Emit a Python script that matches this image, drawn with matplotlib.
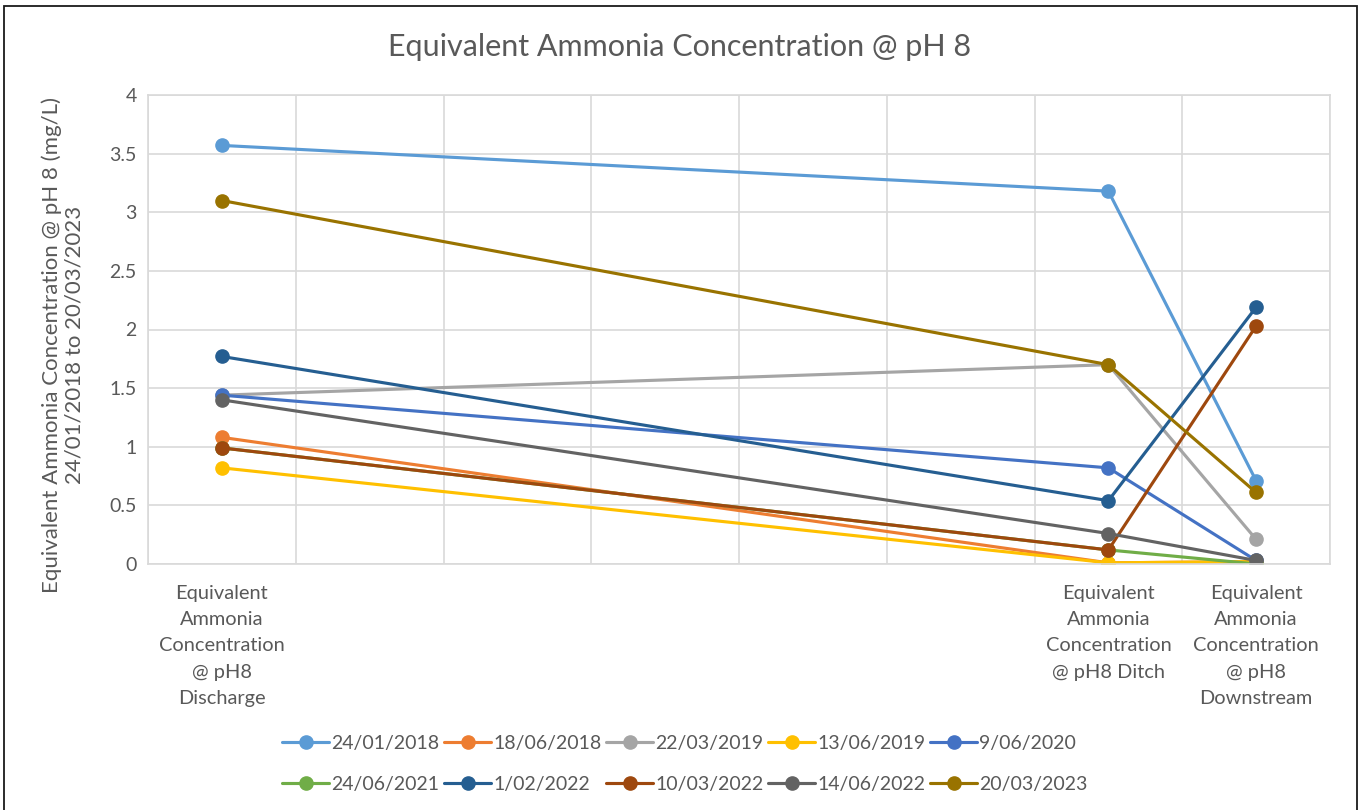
import matplotlib
matplotlib.use("Agg")
import matplotlib.pyplot as plt
from matplotlib.patches import Rectangle

# Sampling sites (positions on an x scale running 0..8)
sites = [
    "Equivalent\nAmmonia\nConcentration\n@ pH8\nDischarge",
    "Equivalent\nAmmonia\nConcentration\n@ pH8 Ditch",
    "Equivalent\nAmmonia\nConcentration\n@ pH8\nDownstream",
]
site_x = [0.5, 6.5, 7.5]

dates = ["24/01/2018", "18/06/2018", "22/03/2019", "13/06/2019", "9/06/2020",
         "24/06/2021", "1/02/2022", "10/03/2022", "14/06/2022", "20/03/2023"]

# Equivalent ammonia (mg/L) at Discharge, Ditch, Downstream
s_24_01_2018 = [3.57, 3.18, 0.71]
s_18_06_2018 = [1.08, 0.01, 0.02]
s_22_03_2019 = [1.44, 1.70, 0.21]
s_13_06_2019 = [0.82, 0.01, 0.02]
s_09_06_2020 = [1.44, 0.82, 0.03]
s_24_06_2021 = [0.99, 0.12, 0.00]
s_01_02_2022 = [1.77, 0.54, 2.19]
s_10_03_2022 = [0.99, 0.12, 2.03]
s_14_06_2022 = [1.40, 0.26, 0.03]
s_20_03_2023 = [3.10, 1.70, 0.61]

series = [s_24_01_2018, s_18_06_2018, s_22_03_2019, s_13_06_2019, s_09_06_2020,
          s_24_06_2021, s_01_02_2022, s_10_03_2022, s_14_06_2022, s_20_03_2023]

colors = ["#5B9BD5", "#ED7D31", "#A5A5A5", "#FFC000", "#4472C4",
          "#70AD47", "#255E91", "#9E480E", "#636363", "#997300"]

plt.rcParams["font.family"] = ["Lato", "DejaVu Sans"]
text_col = "#595959"
grid_col = "#D9D9D9"

fig = plt.figure(figsize=(13.65, 8.1), dpi=100)
ax = fig.add_axes([148 / 1365, 1 - 564 / 810, (1330 - 148) / 1365, (564 - 95) / 810])

handles = []
for vals, col, lab in zip(series, colors, dates):
    h, = ax.plot(site_x, vals, color=col, lw=2.25, marker="o", markersize=9.5,
                 label=lab, solid_capstyle="round")
    handles.append(h)

ax.set_xlim(0, 8)
ax.set_ylim(0, 4)
ax.set_xticks(range(0, 9), minor=True)
ax.set_xticks(site_x)
ax.set_xticklabels(sites, fontsize=14.4, color=text_col, linespacing=1.66)
ax.set_yticks([0, 0.5, 1, 1.5, 2, 2.5, 3, 3.5, 4])
ax.set_yticklabels(["0", "0.5", "1", "1.5", "2", "2.5", "3", "3.5", "4"],
                   fontsize=14, color=text_col)
ax.tick_params(axis="both", which="both", length=0)
ax.tick_params(axis="x", pad=15)
ax.tick_params(axis="y", pad=8)
ax.grid(True, which="minor", axis="x", color=grid_col, lw=1.2)
ax.grid(True, which="major", axis="y", color=grid_col, lw=1.2)
ax.set_axisbelow(True)
for sp in ax.spines.values():
    sp.set_color(grid_col)
    sp.set_linewidth(1.2)

fig.text(63 / 1365, 1 - 345 / 810,
         "Equivalent Ammonia Concentration @ pH 8 (mg/L)\n24/01/2018 to 20/03/2023",
         rotation=90, ha="center", va="center", fontsize=16, color=text_col,
         linespacing=1.15, multialignment="center")

fig.text(680 / 1365, 1 - 47 / 810, "Equivalent Ammonia Concentration @ pH 8",
         ha="center", va="center", fontsize=22, color=text_col)

# Legend filled row by row (two rows of five)
order = [0, 5, 1, 6, 2, 7, 3, 8, 4, 9]
leg = fig.legend([handles[i] for i in order], [dates[i] for i in order],
                 loc="center", bbox_to_anchor=(685 / 1365, 1 - 764 / 810), ncol=5,
                 frameon=False, fontsize=14, handlelength=2.4, handletextpad=0.12,
                 columnspacing=0.25, labelspacing=1.25)
for t in leg.get_texts():
    t.set_color(text_col)

# Outer chart frame
fig.patches.append(Rectangle((4 / 1365, -0.05), (1357 - 4) / 1365, 1.05 - 6 / 810,
                             transform=fig.transFigure, fill=False,
                             edgecolor="#1a1a1a", lw=1.3))

fig.savefig("out.png", dpi=100, facecolor="white")
